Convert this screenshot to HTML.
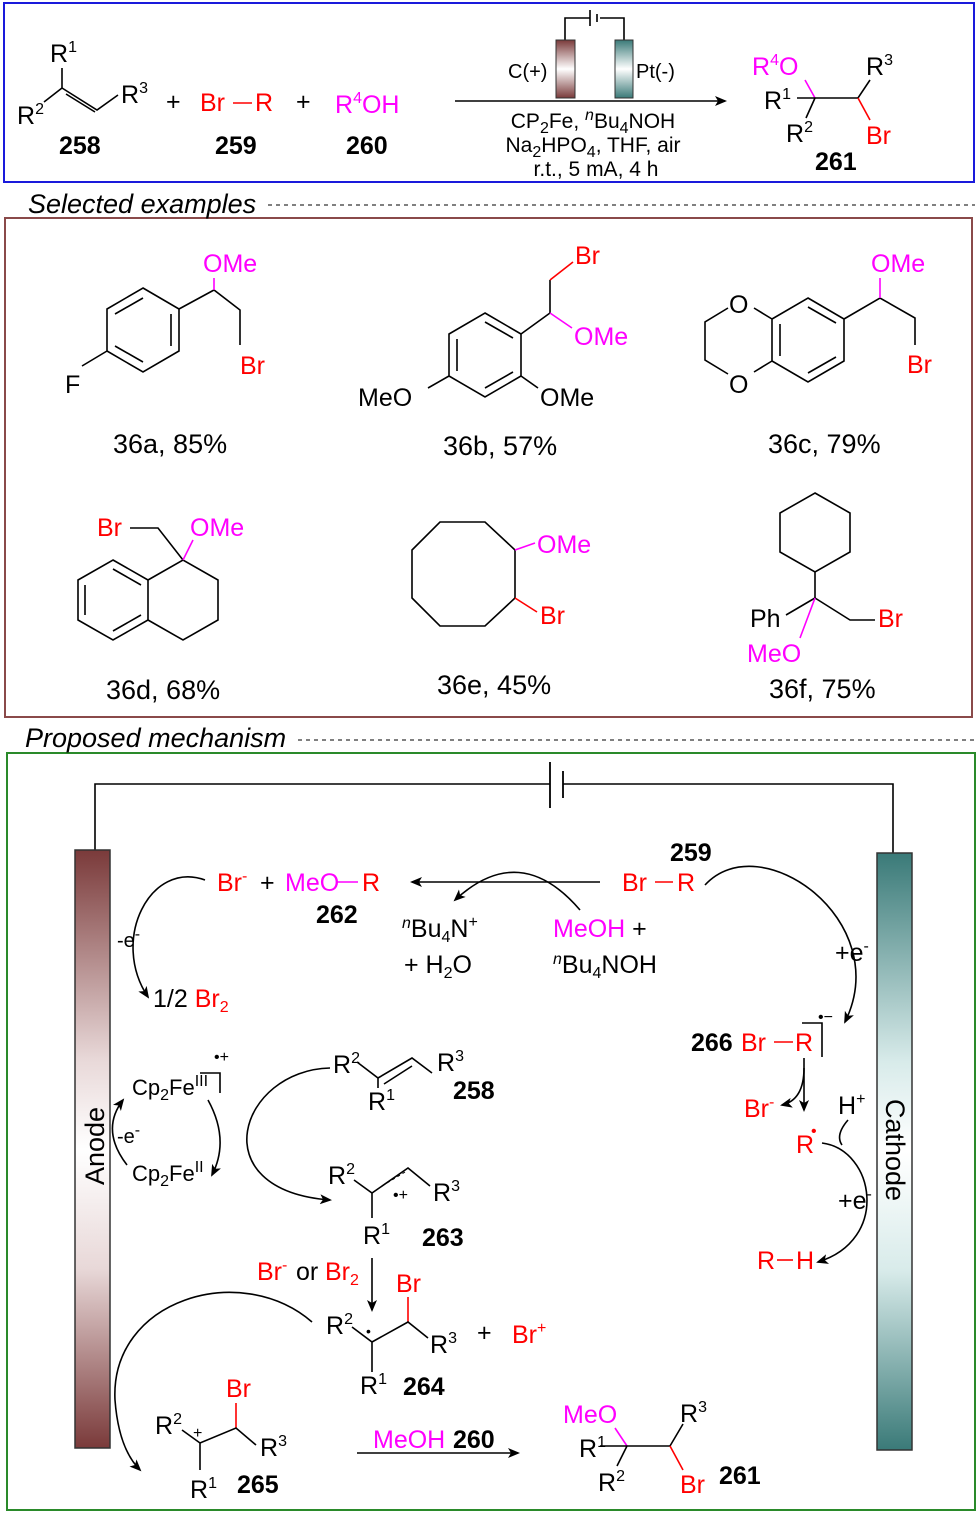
<!DOCTYPE html>
<html><head><meta charset="utf-8"><style>
html,body{margin:0;padding:0;background:#fff}
svg{display:block}
text{font-family:"Liberation Sans",sans-serif;font-size:25px;fill:#000}
.r{fill:#f00}.m{fill:#f0f}.b{font-weight:bold}
.s{font-size:16px}
.lab{font-size:27px}
.l{stroke:#000;stroke-width:1.6;fill:none}
.lr{stroke:#f00;stroke-width:1.6;fill:none}
.lm{stroke:#f0f;stroke-width:1.6;fill:none}
</style></head><body>
<svg width="979" height="1515" viewBox="0 0 979 1515" xmlns="http://www.w3.org/2000/svg">
<defs>
<marker id="a" markerWidth="12" markerHeight="10" refX="10" refY="5" orient="auto" markerUnits="userSpaceOnUse"><path d="M0,0 L12,5 L0,10 L3,5z" fill="#000"/></marker>
<linearGradient id="gb" x1="0" y1="0" x2="0" y2="1"><stop offset="0" stop-color="#7a3a3a"/><stop offset="0.5" stop-color="#fff"/><stop offset="1" stop-color="#7a3a3a"/></linearGradient>
<linearGradient id="gt" x1="0" y1="0" x2="0" y2="1"><stop offset="0" stop-color="#3a7a78"/><stop offset="0.5" stop-color="#fff"/><stop offset="1" stop-color="#3a7a78"/></linearGradient>
<linearGradient id="ga" x1="0" y1="0" x2="0" y2="1"><stop offset="0" stop-color="#7a3a3a"/><stop offset="0.35" stop-color="#e8d8d8"/><stop offset="0.5" stop-color="#fff"/><stop offset="0.7" stop-color="#e8d8d8"/><stop offset="1" stop-color="#7a3a3a"/></linearGradient>
<linearGradient id="gc" x1="0" y1="0" x2="0" y2="1"><stop offset="0" stop-color="#3a7a78"/><stop offset="0.35" stop-color="#d8ebea"/><stop offset="0.5" stop-color="#fff"/><stop offset="0.7" stop-color="#d8ebea"/><stop offset="1" stop-color="#3a7a78"/></linearGradient>
</defs>

<rect x="4" y="3" width="970" height="179" fill="none" stroke="#1a1adb" stroke-width="2"/>
<rect x="5" y="218" width="967" height="499" fill="none" stroke="#8a4a4a" stroke-width="2"/>
<rect x="7" y="753" width="968" height="757" fill="none" stroke="#2a8a2a" stroke-width="2"/>

<!-- top scheme -->
<text x="50" y="62">R<tspan class="s" dy="-10">1</tspan></text>
<text x="17" y="124">R<tspan class="s" dy="-10">2</tspan></text>
<text x="121" y="103">R<tspan class="s" dy="-10">3</tspan></text>
<path class="l" d="M62,68 L62,88 L44,102 M62,88 L97,110 L118,95 M66,94 L95,112"/>
<text x="166" y="110">+</text>
<text x="200" y="111" class="r">Br</text><path class="lr" d="M233,103 H252"/><text x="255" y="111" class="r">R</text>
<text x="296" y="110">+</text>
<text x="335" y="113" class="m">R<tspan class="s" dy="-10">4</tspan><tspan dy="10">OH</tspan></text>
<text x="59" y="154" class="b">258</text><text x="215" y="154" class="b">259</text><text x="346" y="154" class="b">260</text>
<path class="l" d="M455,101 H725" marker-end="url(#a)"/>
<path class="l" d="M565,40 V18 H590 M600,18 H624 V40"/>
<path d="M590,10 V26 M597,14 V22" stroke="#000" stroke-width="1.6"/>
<rect x="556" y="40" width="19" height="58" fill="url(#gb)" stroke="#333"/>
<rect x="615" y="40" width="18" height="58" fill="url(#gt)" stroke="#333"/>
<text x="508" y="78" style="font-size:20px">C(+)</text><text x="636" y="78" style="font-size:20px">Pt(-)</text>
<text x="593" y="128" text-anchor="middle" style="font-size:21px">CP<tspan class="s" dy="5">2</tspan><tspan dy="-5">Fe, </tspan><tspan font-style="italic" class="s" dy="-8">n</tspan><tspan dy="8">Bu</tspan><tspan class="s" dy="5">4</tspan><tspan dy="-5">NOH</tspan></text>
<text x="593" y="152" text-anchor="middle" style="font-size:21px">Na<tspan class="s" dy="5">2</tspan><tspan dy="-5">HPO</tspan><tspan class="s" dy="5">4</tspan><tspan dy="-5">, THF, air</tspan></text>
<text x="596" y="176" text-anchor="middle" style="font-size:21px">r.t., 5 mA, 4 h</text>
<text x="752" y="75" class="m">R<tspan class="s" dy="-10">4</tspan><tspan dy="10">O</tspan></text>
<text x="866" y="75">R<tspan class="s" dy="-10">3</tspan></text>
<text x="764" y="109">R<tspan class="s" dy="-10">1</tspan></text>
<path class="lm" d="M805,80 L815,98"/>
<path class="l" d="M797,98 H858 L870,80 M815,98 L806,118"/>
<path class="lr" d="M858,98 L870,120"/>
<text x="786" y="142">R<tspan class="s" dy="-10">2</tspan></text>
<text x="866" y="144" class="r">Br</text>
<text x="815" y="170" class="b">261</text>

<text x="28" y="213" font-style="italic" style="font-size:27px">Selected examples</text>
<path d="M268,205 H975" stroke="#000" stroke-dasharray="4,4"/>

<!-- 36a -->
<path class="l" d="M143,288 L179,309 L179,351 L143,372 L107,351 L107,309Z M115,314 L143,298 M115,346 L143,362 M171,314 V346 M107,351 L82,366 M179,309 L214,290 L240,310 L240,345"/>
<path class="lm" d="M214,290 V278"/>
<text x="65" y="393">F</text><text x="203" y="272" class="m">OMe</text><text x="240" y="374" class="r">Br</text>
<text x="113" y="453" class="lab">36a, 85%</text>
<!-- 36b -->
<path class="l" d="M485,313 L521,334 L521,376 L485,397 L449,376 L449,334Z M457,339 V371 M485,322 L513,338 M485,388 L513,372 M521,334 L550,313 L550,280 M521,376 L538,388 M449,376 L428,388"/>
<path class="lr" d="M550,280 L573,262"/><path class="lm" d="M550,313 L572,328"/>
<text x="575" y="264" class="r">Br</text><text x="574" y="345" class="m">OMe</text>
<text x="358" y="406">MeO</text><text x="540" y="406">OMe</text>
<text x="443" y="455" class="lab">36b, 57%</text>
<!-- 36c -->
<path class="l" d="M808,298 L844,319 L844,361 L808,382 L772,361 L772,319Z M780,324 V356 M808,307 L836,323 M808,373 L836,357 M772,319 L754,308 M772,361 L754,372 M728,308 L705,322 V360 L728,374 M844,319 L880,298 L915,318 V345"/>
<path class="lm" d="M880,298 V278"/>
<text x="729" y="313">O</text><text x="729" y="393">O</text>
<text x="871" y="272" class="m">OMe</text><text x="907" y="373" class="r">Br</text>
<text x="768" y="453" class="lab">36c, 79%</text>
<!-- 36d -->
<path class="l" d="M113,560 L148,580 L148,620 L113,640 L78,620 L78,580Z M85,585 V615 M113,569 L141,585 M113,631 L141,615 M148,580 L183,560 L218,580 L218,620 L183,640 L148,620 M183,560 L158,528 H130"/>
<path class="lm" d="M183,560 L193,540"/>
<text x="97" y="536" class="r">Br</text><text x="190" y="536" class="m">OMe</text>
<text x="106" y="699" class="lab">36d, 68%</text>
<!-- 36e -->
<path class="l" d="M440,522 L485,522 L515,550 L515,598 L485,626 L440,626 L412,598 L412,550Z"/>
<path class="lm" d="M515,550 L535,543"/><path class="lr" d="M515,598 L537,612"/>
<text x="537" y="553" class="m">OMe</text><text x="540" y="624" class="r">Br</text>
<text x="437" y="694" class="lab">36e, 45%</text>
<!-- 36f -->
<path class="l" d="M815,493 L850,513 L850,552 L815,572 L780,552 L780,513Z M815,572 V598 L786,615 M815,598 L850,620 L875,620"/>
<path class="lm" d="M815,598 L800,638"/>
<text x="750" y="627">Ph</text><text x="878" y="627" class="r">Br</text><text x="747" y="662" class="m">MeO</text>
<text x="769" y="698" class="lab">36f, 75%</text>

<text x="25" y="747" font-style="italic" style="font-size:27px">Proposed mechanism</text>
<path d="M298,740 H975" stroke="#000" stroke-dasharray="4,4"/>

<!-- circuit -->
<path class="l" d="M95,850 V784 H550 M563,784 H893 V853"/>
<path d="M550,762 V808 M563,771 V798" stroke="#000" stroke-width="1.8"/>
<rect x="75" y="850" width="35" height="598" fill="url(#ga)" stroke="#333" stroke-width="1.5"/>
<rect x="877" y="853" width="35" height="597" fill="url(#gc)" stroke="#333" stroke-width="1.5"/>
<text transform="translate(104,1146) rotate(-90)" text-anchor="middle" style="font-size:27px">Anode</text>
<text transform="translate(886,1150) rotate(90)" text-anchor="middle" style="font-size:27px">Cathode</text>

<text x="217" y="891" class="r">Br<tspan class="s" dy="-10">-</tspan></text><text x="260" y="891">+</text>
<text x="285" y="891" class="m">MeO</text><path class="lm" d="M337,882 H358"/><text x="362" y="891" class="r">R</text>
<text x="316" y="923" class="b">262</text>
<path class="l" d="M600,882 H412" marker-end="url(#a)"/>
<path class="l" d="M580,910 Q520,840 455,900" marker-end="url(#a)"/>
<text x="402" y="937"><tspan class="s" font-style="italic" dy="-9">n</tspan><tspan dy="9">Bu</tspan><tspan class="s" dy="5">4</tspan><tspan dy="-5">N</tspan><tspan class="s" dy="-10">+</tspan></text>
<text x="404" y="973">+ H<tspan class="s" dy="5">2</tspan><tspan dy="-5">O</tspan></text>
<text x="553" y="937"><tspan class="m">MeOH</tspan> +</text>
<text x="553" y="973"><tspan class="s" font-style="italic" dy="-9">n</tspan><tspan dy="9">Bu</tspan><tspan class="s" dy="5">4</tspan><tspan dy="-5">NOH</tspan></text>
<text x="670" y="861" class="b">259</text>
<text x="622" y="891" class="r">Br</text><path class="lr" d="M655,882 H673"/><text x="677" y="891" class="r">R</text>
<path class="l" d="M705,885 C760,825 895,920 845,1022" marker-end="url(#a)"/>
<text x="835" y="961">+e<tspan class="s" dy="-10">-</tspan></text>
<text x="691" y="1051" class="b">266</text>
<text x="741" y="1051" class="r">Br</text><path class="lr" d="M774,1042 H793"/><text x="795" y="1051" class="r">R</text>
<path class="l" d="M802,1023 H822 V1057"/><text x="818" y="1022" class="s">•−</text>
<path class="l" d="M804,1058 V1110" marker-end="url(#a)"/>
<path class="l" d="M804,1068 Q804,1100 782,1105" marker-end="url(#a)"/>
<text x="744" y="1117" class="r">Br<tspan class="s" dy="-10">-</tspan></text>
<text x="796" y="1153" class="r">R</text><text x="811" y="1136" class="s r">•</text>
<text x="838" y="1114">H<tspan class="s" dy="-10">+</tspan></text>
<path class="l" d="M848,1120 Q835,1135 842,1145"/>
<path class="l" d="M822,1143 C875,1150 890,1240 818,1262" marker-end="url(#a)"/>
<text x="838" y="1209">+e<tspan class="s" dy="-10">-</tspan></text>
<text x="757" y="1269" class="r">R</text><path class="lr" d="M777,1260 H793"/><text x="796" y="1269" class="r">H</text>

<path class="l" d="M205,880 C150,860 110,940 148,997" marker-end="url(#a)"/>
<text x="117" y="947" style="font-size:20px">-e<tspan class="s" dy="-8">-</tspan></text>
<text x="153" y="1007">1/2 <tspan class="r">Br</tspan><tspan class="r s" dy="5">2</tspan></text>

<text x="132" y="1095" style="font-size:22px">Cp<tspan class="s" dy="5">2</tspan><tspan dy="-5">Fe</tspan><tspan class="s" dy="-9">III</tspan></text>
<path class="l" d="M200,1073 H220 V1093"/><text x="214" y="1062" class="s">•+</text>
<text x="132" y="1181" style="font-size:22px">Cp<tspan class="s" dy="5">2</tspan><tspan dy="-5">Fe</tspan><tspan class="s" dy="-9">II</tspan></text>
<path class="l" d="M127,1165 Q100,1130 123,1100" marker-end="url(#a)"/>
<text x="117" y="1143" style="font-size:20px">-e<tspan class="s" dy="-8">-</tspan></text>
<path class="l" d="M208,1100 Q230,1140 212,1175" marker-end="url(#a)"/>
<path class="l" d="M330,1068 C240,1070 200,1190 330,1200" marker-end="url(#a)"/>

<text x="333" y="1073">R<tspan class="s" dy="-10">2</tspan></text>
<path class="l" d="M357,1062 L378,1078 L412,1058 L432,1073 M384,1084 L412,1066 M378,1078 V1088"/>
<text x="437" y="1071">R<tspan class="s" dy="-10">3</tspan></text>
<text x="368" y="1110">R<tspan class="s" dy="-10">1</tspan></text>
<text x="453" y="1099" class="b">258</text>

<text x="328" y="1184">R<tspan class="s" dy="-10">2</tspan></text>
<path class="l" d="M354,1180 L372,1193 L408,1168 L430,1186 M372,1193 V1218"/>
<path d="M382,1186 L405,1172" stroke="#000" stroke-dasharray="3,3"/>
<text x="393" y="1200" class="s">•+</text>
<text x="433" y="1201">R<tspan class="s" dy="-10">3</tspan></text>
<text x="363" y="1244">R<tspan class="s" dy="-10">1</tspan></text>
<text x="422" y="1246" class="b">263</text>

<text x="257" y="1280" class="r">Br<tspan class="s" dy="-10">-</tspan></text><text x="296" y="1280">or</text>
<text x="325" y="1280" class="r">Br<tspan class="s" dy="5">2</tspan></text>
<path class="l" d="M372,1258 V1310" marker-end="url(#a)"/>
<text x="396" y="1292" class="r">Br</text>
<path class="lr" d="M408,1297 V1322"/>
<text x="326" y="1334">R<tspan class="s" dy="-10">2</tspan></text>
<path class="l" d="M352,1327 L372,1342 L408,1322 L428,1338 M372,1342 V1372"/>
<text x="366" y="1336" style="font-size:14px">•</text>
<text x="430" y="1353">R<tspan class="s" dy="-10">3</tspan></text>
<text x="477" y="1341">+</text>
<text x="512" y="1343" class="r">Br<tspan class="s" dy="-10">+</tspan></text>
<text x="360" y="1394">R<tspan class="s" dy="-10">1</tspan></text>
<text x="403" y="1395" class="b">264</text>

<path class="l" d="M312,1322 C240,1260 110,1300 115,1400 C118,1440 130,1460 140,1470" marker-end="url(#a)"/>
<text x="226" y="1397" class="r">Br</text>
<path class="lr" d="M236,1403 V1428"/>
<text x="155" y="1434">R<tspan class="s" dy="-10">2</tspan></text>
<path class="l" d="M182,1430 L200,1443 L236,1428 L256,1445 M200,1443 V1470"/>
<text x="193" y="1438" class="s">+</text>
<text x="260" y="1456">R<tspan class="s" dy="-10">3</tspan></text>
<text x="190" y="1498">R<tspan class="s" dy="-10">1</tspan></text>
<text x="237" y="1493" class="b">265</text>

<text x="373" y="1448" class="m">MeOH</text><text x="453" y="1448" class="b">260</text>
<path class="l" d="M357,1453 H518" marker-end="url(#a)"/>

<text x="563" y="1423" class="m">MeO</text>
<path class="lm" d="M615,1428 L627,1446"/>
<path class="l" d="M600,1446 H670 L683,1424 M627,1446 L617,1466"/>
<path class="lr" d="M670,1446 L683,1470"/>
<text x="680" y="1422">R<tspan class="s" dy="-10">3</tspan></text>
<text x="579" y="1457">R<tspan class="s" dy="-10">1</tspan></text>
<text x="598" y="1491">R<tspan class="s" dy="-10">2</tspan></text>
<text x="680" y="1493" class="r">Br</text>
<text x="719" y="1484" class="b">261</text>
</svg>
</body></html>
